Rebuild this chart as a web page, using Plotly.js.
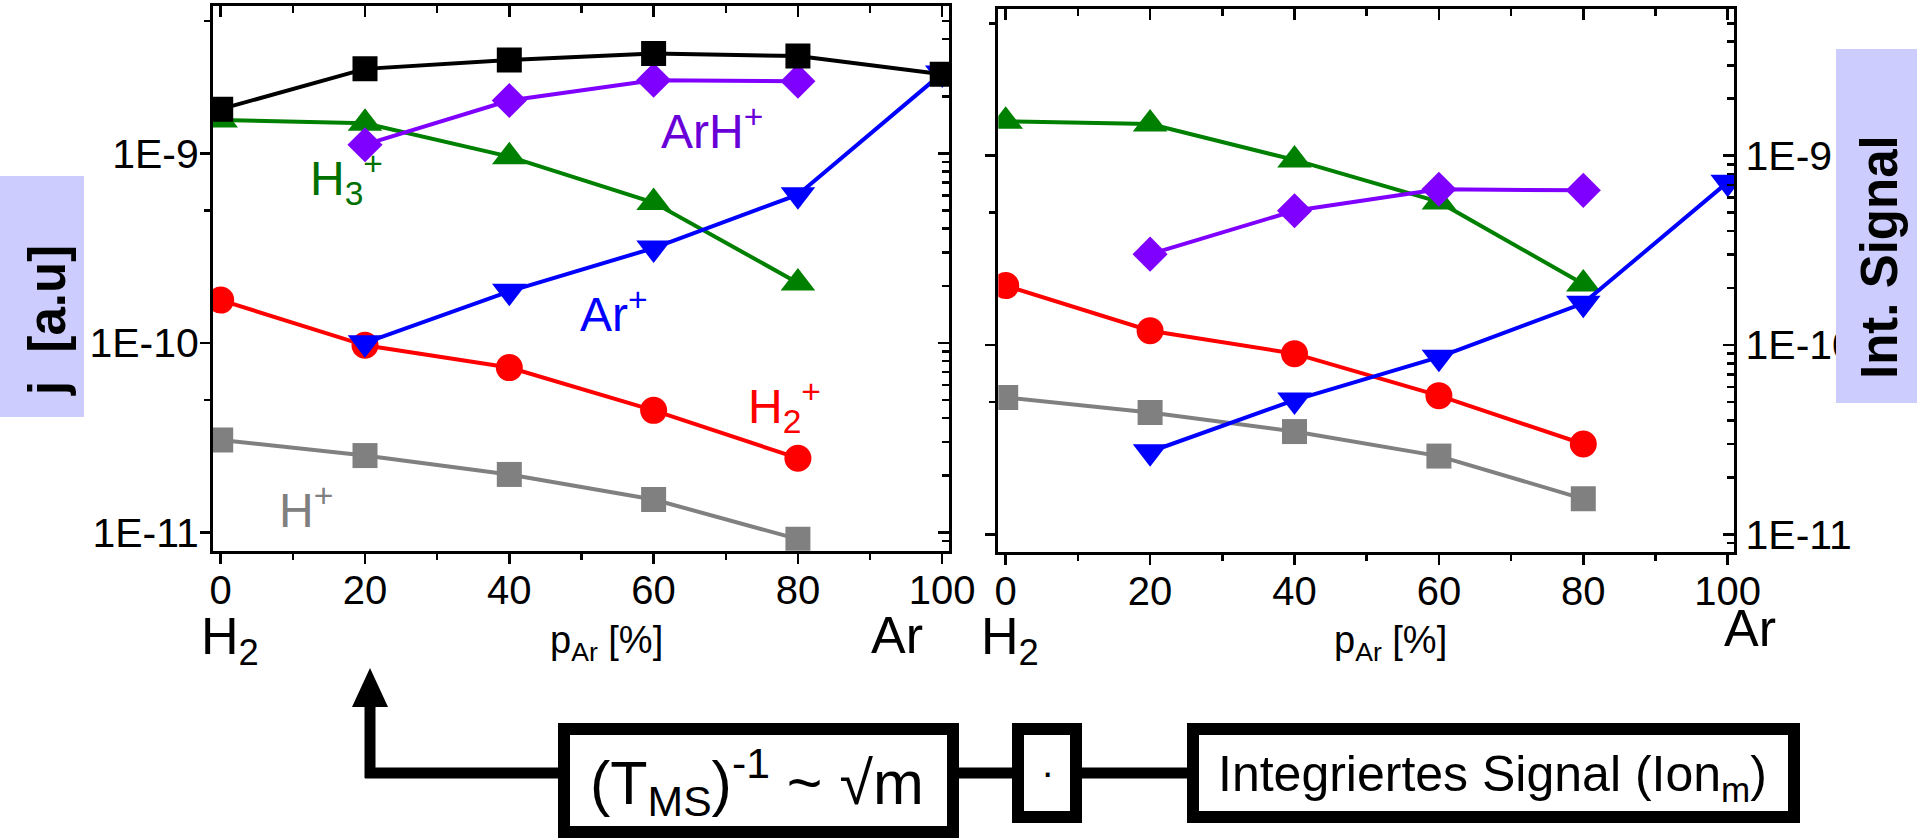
<!DOCTYPE html>
<html>
<head>
<meta charset="utf-8">
<script src="https://cdn.plot.ly/plotly-3.0.1.min.js"></script>
<style>html,body{margin:0;padding:0;background:#fff;}#chart{width:1917px;height:840px;}</style>
</head>
<body>
<div id="chart"></div>
<script>
// ---------------- data ----------------
const pAr = [0, 20, 40, 60, 80, 100];
const xTickVals = [0, 20, 40, 60, 80, 100];
const xTickText = ['0', '20', '40', '60', '80', '100'];
const yTickVals = [1e-11, 1e-10, 1e-9];
const yTickText = ['1E-11', '1E-10', '1E-9'];

// left panel: j [a.u]
const jTotal = [1.71e-9, 2.79e-9, 3.11e-9, 3.36e-9, 3.26e-9, 2.61e-9];
const jArH   = [null, 1.11e-9, 1.90e-9, 2.43e-9, 2.40e-9, null];
const jH3    = [1.50e-9, 1.44e-9, 9.6e-10, 5.5e-10, 2.07e-10, null];
const jAr    = [null, 1.0e-10, 1.87e-10, 3.16e-10, 6.05e-10, 2.65e-9];
const jH2    = [1.68e-10, 9.7e-11, 7.4e-11, 4.4e-11, 2.46e-11, null];
const jH     = [3.07e-11, 2.54e-11, 2.02e-11, 1.49e-11, 9.2e-12, null];

// right panel: Int. Signal
const sH3  = [1.52e-9, 1.47e-9, 9.5e-10, 5.7e-10, 2.1e-10, null];
const sArH = [null, 3.02e-10, 5.12e-10, 6.65e-10, 6.56e-10, null];
const sAr  = [null, 2.73e-11, 5.12e-11, 8.63e-11, 1.66e-10, 7.25e-10];
const sH2  = [2.06e-10, 1.19e-10, 9.0e-11, 5.4e-11, 3.0e-11, null];
const sH   = [5.28e-11, 4.40e-11, 3.49e-11, 2.59e-11, 1.54e-11, null];

// ---------------- helpers ----------------
const W = 1917, H = 840;
const px = v => v / W;
const py = v => 1 - v / H;
const FONT = 'Liberation Sans, Arial, sans-serif';

const C = {
  total: '#000000', arh: '#8000ff', h3: '#008000', ar: '#0000ff', h2: '#ff0000', h: '#808080'
};
function tr(y, color, symbol, size, xa, ya) {
  return {
    x: pAr, y: y, type: 'scatter', mode: 'lines+markers', xaxis: xa, yaxis: ya,
    line: {color: color, width: 4},
    marker: {color: color, symbol: symbol, size: size, line: {width: 0}},
    cliponaxis: true, showlegend: false, hoverinfo: 'skip'
  };
}
// empty helper traces so that the framing (top / right) axes are drawn
function frameTrace(xa, ya) {
  return {x: [], y: [], type: 'scatter', mode: 'markers', xaxis: xa, yaxis: ya, showlegend: false, hoverinfo: 'skip'};
}
const SQ = 25, CI = 27, TR = 30, DI = 27;
const data = [
  tr(jH, C.h, 'square', SQ, 'x', 'y'),
  tr(jH2, C.h2, 'circle', CI, 'x', 'y'),
  tr(jH3, C.h3, 'triangle-up', TR, 'x', 'y'),
  tr(jArH, C.arh, 'diamond', DI, 'x', 'y'),
  tr(jAr, C.ar, 'triangle-down', TR, 'x', 'y'),
  tr(jTotal, C.total, 'square', SQ, 'x', 'y'),
  tr(sH, C.h, 'square', SQ, 'x2', 'y2'),
  tr(sH2, C.h2, 'circle', CI, 'x2', 'y2'),
  tr(sH3, C.h3, 'triangle-up', TR, 'x2', 'y2'),
  tr(sArH, C.arh, 'diamond', DI, 'x2', 'y2'),
  tr(sAr, C.ar, 'triangle-down', TR, 'x2', 'y2'),
  frameTrace('x3', 'y3'),
  frameTrace('x4', 'y4')
];

const minorLog = [];
[1e-12, 1e-11, 1e-10, 1e-9].forEach(d => { for (let k = 2; k <= 9; k++) minorLog.push(k * d); });
const minorFive = [5e-12, 5e-11, 5e-10, 5e-9];
const minorX = [10, 30, 50, 70, 90];

function xBottom(domain, range, anchor) {
  return {
    domain: domain, range: range, anchor: anchor, type: 'linear',
    tickmode: 'array', tickvals: xTickVals, ticktext: xTickText,
    ticks: 'outside', ticklen: 10, tickwidth: 2.5, tickcolor: '#000',
    minor: {tickmode: 'array', tickvals: minorX, ticks: 'outside', ticklen: 6, tickwidth: 2.5, tickcolor: '#000', showgrid: false},
    showline: true, linewidth: 3, linecolor: '#000', mirror: false,
    showgrid: false, zeroline: false, ticklabelstandoff: -8,
    tickfont: {family: FONT, size: 40, color: '#000'}
  };
}
function xTop(over, range, anchor) {
  return {
    overlaying: over, side: 'top', anchor: anchor, range: range, type: 'linear',
    tickmode: 'array', tickvals: xTickVals, showticklabels: false,
    ticks: 'inside', ticklen: 11, tickwidth: 2.5, tickcolor: '#000',
    minor: {tickmode: 'array', tickvals: minorX, ticks: 'inside', ticklen: 7, tickwidth: 2.5, tickcolor: '#000', showgrid: false},
    showline: true, linewidth: 3, linecolor: '#000', showgrid: false, zeroline: false
  };
}
function yLeft(domain, range, anchor, labels) {
  return {
    domain: domain, range: range, anchor: anchor, type: 'log',
    tickmode: 'array', tickvals: yTickVals, ticktext: yTickText, showticklabels: labels,
    ticks: 'outside', ticklen: 10, tickwidth: 2.5, tickcolor: '#000',
    minor: {tickmode: 'array', tickvals: minorFive, ticks: 'outside', ticklen: 6, tickwidth: 2.5, tickcolor: '#000', showgrid: false},
    showline: true, linewidth: 3, linecolor: '#000', showgrid: false, zeroline: false,
    ticklabelstandoff: -7,
    tickfont: {family: FONT, size: 41, color: '#000'}
  };
}
function yRight(over, range, anchor, labels) {
  return {
    overlaying: over, side: 'right', anchor: anchor, range: range, type: 'log',
    tickmode: 'array', tickvals: yTickVals, ticktext: yTickText, showticklabels: labels,
    ticks: 'inside', ticklen: 11, tickwidth: 2.5, tickcolor: '#000',
    minor: {tickmode: 'array', tickvals: minorLog, ticks: 'inside', ticklen: 7, tickwidth: 2.5, tickcolor: '#000', showgrid: false},
    showline: true, linewidth: 3, linecolor: '#000', showgrid: false, zeroline: false,
    tickfont: {family: FONT, size: 41, color: '#000'}
  };
}

const xrL = [-1.067, 100.98], yrL = [-11.0971, -8.2211];
const xrR = [-1.025, 100.915], yrR = [-11.095, -8.2266];
const domXL = [px(213), px(949.3)], domYL = [py(550.7), py(5.7)];
const domXR = [px(998.3), px(1734.3)], domYR = [py(552.3), py(9.3)];

function ann(text, x, y, size, color, extra) {
  return Object.assign({
    text: text, x: px(x), y: py(y), xref: 'paper', yref: 'paper',
    showarrow: false, xanchor: 'center', yanchor: 'middle',
    font: {family: FONT, size: size, color: color}
  }, extra || {});
}

const annotations = [
  // series labels
  ann('ArH<sup>+</sup>', 712, 128, 48, '#6a00d8'),
  ann('H<sub>3</sub><sup>+</sup>', 346, 178, 48, '#007000'),
  ann('Ar<sup>+</sup>', 614, 311, 48, '#0000ff'),
  ann('H<sub>2</sub><sup>+</sup>', 784, 406, 48, '#ff0000'),
  ann('H<sup>+</sup>', 306, 507, 48, '#808080'),
  // x axis labels
  ann('H<sub>2</sub>', 230, 640, 52, '#000'),
  ann('Ar', 897, 635, 52, '#000'),
  ann('p<sub>Ar</sub> [%]', 606, 643, 38, '#000'),
  ann('H<sub>2</sub>', 1010, 640, 52, '#000'),
  ann('Ar', 1750, 628, 52, '#000'),
  ann('p<sub>Ar</sub> [%]', 1390, 643, 38, '#000'),
  // y titles
  ann('<b>j\u00a0\u00a0[a.u]</b>', 47, 321, 51, '#000', {textangle: -90}),
  ann('<b>Int. Signal</b>', 1879, 257, 51, '#000', {textangle: -90}),
  // diagram texts
  ann('(T<sub>MS</sub>)<sup>-1</sup> ~ \u221am', 757, 782, 61, '#000'),
  ann('\u00b7', 1047, 772, 40, '#000'),
  ann('Integriertes Signal (Ion<sub>m</sub>)', 1492, 777, 50, '#000')
];

const shapes = [
  // y-title boxes
  {type: 'rect', xref: 'paper', yref: 'paper', x0: px(0), x1: px(84), y0: py(417), y1: py(176), fillcolor: '#ccccff', line: {width: 0}, layer: 'above'},
  {type: 'rect', xref: 'paper', yref: 'paper', x0: px(1836), x1: px(1917), y0: py(403), y1: py(49), fillcolor: '#ccccff', line: {width: 0}, layer: 'above'},
  // arrow
  {type: 'line', xref: 'paper', yref: 'paper', x0: px(370), x1: px(370), y0: py(778), y1: py(700), line: {color: '#000', width: 11}},
  {type: 'path', xref: 'paper', yref: 'paper', path: 'M ' + px(370) + ' ' + py(668) + ' L ' + px(352) + ' ' + py(707) + ' L ' + px(388) + ' ' + py(707) + ' Z', fillcolor: '#000', line: {width: 0}},
  // connectors
  {type: 'line', xref: 'paper', yref: 'paper', x0: px(365), x1: px(560), y0: py(773), y1: py(773), line: {color: '#000', width: 11}},
  {type: 'line', xref: 'paper', yref: 'paper', x0: px(955), x1: px(1015), y0: py(773), y1: py(773), line: {color: '#000', width: 11}},
  {type: 'line', xref: 'paper', yref: 'paper', x0: px(1078), x1: px(1190), y0: py(773), y1: py(773), line: {color: '#000', width: 11}},
  // boxes
  {type: 'rect', xref: 'paper', yref: 'paper', x0: px(564), x1: px(953), y0: py(832), y1: py(729), fillcolor: 'rgba(0,0,0,0)', line: {color: '#000', width: 12}},
  {type: 'rect', xref: 'paper', yref: 'paper', x0: px(1018), x1: px(1076), y0: py(817), y1: py(729), fillcolor: 'rgba(0,0,0,0)', line: {color: '#000', width: 12}},
  {type: 'rect', xref: 'paper', yref: 'paper', x0: px(1193), x1: px(1794), y0: py(817), y1: py(729), fillcolor: 'rgba(0,0,0,0)', line: {color: '#000', width: 12}}
];

const layout = {
  width: W, height: H,
  margin: {l: 0, r: 0, t: 0, b: 0, pad: 0},
  paper_bgcolor: '#fff', plot_bgcolor: 'rgba(0,0,0,0)',
  showlegend: false,
  font: {family: FONT, color: '#000'},
  xaxis: xBottom(domXL, xrL, 'y'),
  yaxis: yLeft(domYL, yrL, 'x', true),
  xaxis3: xTop('x', xrL, 'y'),
  yaxis3: yRight('y', yrL, 'x', false),
  xaxis2: xBottom(domXR, xrR, 'y2'),
  yaxis2: yLeft(domYR, yrR, 'x2', false),
  xaxis4: xTop('x2', xrR, 'y2'),
  yaxis4: yRight('y2', yrR, 'x2', true),
  annotations: annotations,
  shapes: shapes
};

Plotly.newPlot('chart', data, layout, {staticPlot: true, displayModeBar: false});
</script>
</body>
</html>
